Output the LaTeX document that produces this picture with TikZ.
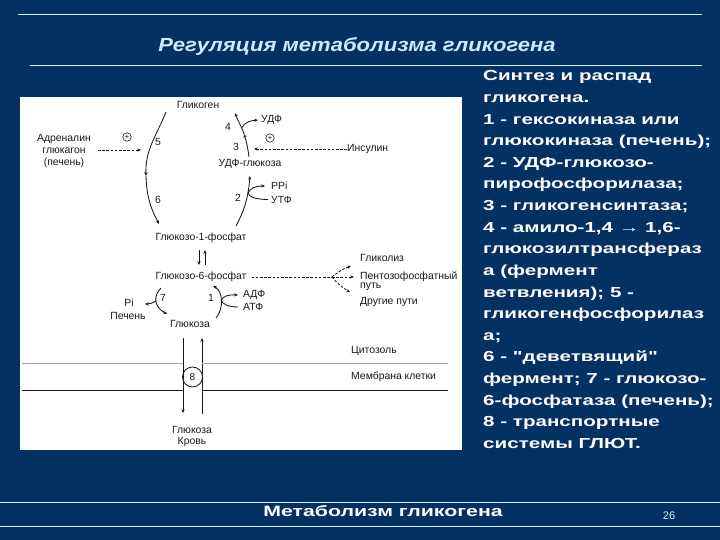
\documentclass[tikz,border=0pt]{standalone}
\usepackage{fontspec}
\setmainfont{Liberation Sans}
\newfontfamily\widefont{Liberation Sans}[FakeStretch=1.42]
\newfontfamily\titlefont{Liberation Sans}[FakeStretch=1.16]
\usetikzlibrary{arrows.meta}
\definecolor{bg}{RGB}{3,49,98}
\definecolor{titlec}{RGB}{205,235,250}
\definecolor{linec}{RGB}{215,238,248}
\definecolor{ink}{RGB}{25,25,25}
\tikzset{
  lbl/.style={font=\fontsize{10.4}{12}\selectfont, text=ink, inner sep=0pt},
  arr/.style={-{Stealth[length=3.8pt,width=3.2pt]}, line width=0.85pt, draw=ink},
  dsh/.style={arr, dash pattern=on 2.6pt off 1.6pt},
  dshline/.style={line width=0.85pt, draw=ink, dash pattern=on 2.6pt off 1.6pt},
  plusc/.style={circle, draw=ink, line width=0.6pt, minimum size=8.5pt, inner sep=0pt, font=\fontsize{7.5}{7.5}\selectfont},
  rt/.style={font=\widefont\bfseries\fontsize{14.5}{17}\selectfont, text=white, inner sep=0pt, anchor=base west},
  hline/.style={draw=linec, line width=0.9pt}
}
\begin{document}
\begin{tikzpicture}[x=1pt,y=-1pt]
\useasboundingbox (0,0) rectangle (720,540);
\fill[bg] (0,0) rectangle (720,540);
% header / footer lines
\draw[hline] (18,14) -- (702,14);
\draw[hline] (30,65) -- (702,65);
\draw[hline] (0,502) -- (720,502);
\draw[hline] (0,526) -- (720,526);
\node[font=\titlefont\bfseries\itshape\fontsize{19}{22}\selectfont, text=titlec, inner sep=0pt] (title) at (357,47) {Регуляция метаболизма гликогена};
\node[font=\widefont\bfseries\fontsize{15}{17}\selectfont, text=white, inner sep=0pt] (foot) at (383,511) {Метаболизм гликогена};
\node[font=\fontsize{11}{13}\selectfont, text=linec, inner sep=0pt] (page) at (669,516) {26};
% white panel
\fill[white] (20,97) rectangle (462,450);
% right text
\foreach \t [count=\i] in {{Синтез и распад},{гликогена.},{1 - гексокиназа или},{глюкокиназа (печень);},{2 - УДФ-глюкозо-},{пирофосфорилаза;},{3 - гликогенсинтаза;},{4 - амило-1,4 → 1,6-},{глюкозилтрансфераз},{а (фермент},{ветвления); 5 -},{гликогенфосфорилаз},{а;},{6 - "деветвящий"},{фермент; 7 - глюкозо-},{6-фосфатаза (печень);},{8 - транспортные},{системы ГЛЮТ.}}
  \node[rt] (r\i) at (483,{81+21.6*(\i-1)}) {\t};
% diagram labels
\node[lbl] (glycogen) at (198,105) {Гликоген};
\node[lbl, align=center] (adr) at (64,151) {Адреналин\\глюкагон\\(печень)};
\node[lbl, anchor=west] (udf) at (261,120) {УДФ};
\node[lbl, anchor=west] (ins) at (347,149) {Инсулин};
\node[lbl] (udfg) at (250,164) {УДФ-глюкоза};
\node[lbl, anchor=west] (ppi) at (271,186) {PPi};
\node[lbl, anchor=west] (utf) at (271,200) {УТФ};
\node[lbl] (g1p) at (201,238) {Глюкозо-1-фосфат};
\node[lbl] (g6p) at (201,277) {Глюкозо-6-фосфат};
\node[lbl] (glc) at (190,324) {Глюкоза};
\node[lbl] (pi) at (129,303) {Pi};
\node[lbl] (liver) at (128,316) {Печень};
\node[lbl, anchor=west] (adp) at (243,295) {АДФ};
\node[lbl, anchor=west] (atp) at (243,307) {АТФ};
\node[lbl, anchor=west] (glyc) at (360,258) {Гликолиз};
\node[lbl, anchor=west] (ppp) at (360,277) {Пентозофосфатный};
\node[lbl, anchor=west] (ppp2) at (360,287) {путь};
\node[lbl, anchor=west] (other) at (360,302) {Другие пути};
\node[lbl, anchor=west] (cyto) at (351,351) {Цитозоль};
\node[lbl, anchor=west] (memb) at (351,377) {Мембрана клетки};
\node[lbl] (bglc) at (192,430) {Глюкоза};
\node[lbl] (blood) at (192,442) {Кровь};
% numbers
\node[lbl] (n5) at (158,142) {5};
\node[lbl] (n6) at (158,200) {6};
\node[lbl] (n4) at (228,127) {4};
\node[lbl] (n3) at (236,147) {3};
\node[lbl] (n2) at (238,198) {2};
\node[lbl] (n7) at (163,298) {7};
\node[lbl] (n1) at (211,298) {1};
\node[plusc] (p1) at (127,137) {+};
\node[plusc] (p2) at (270,138) {+};
% coordinates
\coordinate (a5s) at (166,112);
\coordinate (a5m) at (146,176);
\coordinate (a6e) at (159,224);
\coordinate (ad5) at (141,150);
\coordinate (s2s) at (236,226);
\coordinate (s2e) at (250,176);
\coordinate (b2) at (248,193);
\coordinate (utfe) at (268,199.5);
\coordinate (ppie) at (265,186);
\coordinate (s3s) at (249,157);
\coordinate (s3m) at (244,134);
\coordinate (s4e) at (235,113);
\coordinate (b4) at (241.5,128);
\coordinate (udfe) at (258,120);
\coordinate (inse) at (254,149);
\coordinate (d1s) at (199,250);
\coordinate (d1e) at (199,265);
\coordinate (u1s) at (205,265);
\coordinate (u1e) at (205,250);
\coordinate (brk) at (332,277);
\coordinate (glyce) at (351,266);
\coordinate (pppe) at (354,277);
\coordinate (othe) at (350,292);
\coordinate (s7s) at (161,288);
\coordinate (s7e) at (167,314);
\coordinate (b7) at (156,301);
\coordinate (pie) at (145,304);
\coordinate (s1s) at (216,318);
\coordinate (s1e) at (213,286);
\coordinate (b1) at (221.5,300);
\coordinate (adpe) at (238,295);
\coordinate (atpe) at (238,307);
\coordinate (lt) at (183,338);
\coordinate (lb) at (183,413);
\coordinate (rt) at (202,414);
\coordinate (rtp) at (202,338);
% connectors
\draw[arr] (a5s) to[out=-112,in=92] (a5m);
\draw[arr] (a5m) to[out=-88,in=118] (a6e);
\draw[dsh] ([xshift=7pt]adr.east|-ad5) -- (ad5);
\draw[arr] (s2s) to[out=62,in=-95] (s2e);
\draw[arr] (utfe) .. controls (256,199.5) and (249,197) .. (b2) .. controls (250,188) and (256,186) .. (ppie);
\draw[arr] (s3s) to[out=98,in=-72] (s3m);
\draw[arr] (s3m) to[out=108,in=-70] (s4e);
\draw[arr] (b4) to[out=60,in=185] (udfe);
\draw[dsh] (ins.west) -- (inse);
\draw[arr] (d1s) -- (d1e);
\draw[arr] (u1s) -- (u1e);
\draw[dshline] ([xshift=5pt]g6p.east) -- (brk);
\draw[dsh] (brk) to[bend left=10] (glyce);
\draw[dsh] (brk) -- (pppe);
\draw[dsh] (brk) to[bend right=10] (othe);
\draw[arr] (s7s) .. controls (153,296) and (154,307) .. (s7e);
\draw[arr] (b7) to[out=-150,in=0] (pie);
\draw[arr] (s1s) .. controls (224,309) and (223,291) .. (s1e);
\draw[arr] (atpe) .. controls (228,307) and (222,304) .. (b1) .. controls (223,296) and (229,294.5) .. (adpe);
\draw[arr] (lt) -- (lb);
\draw[arr] (rt) -- (rtp);
\node[circle, draw=ink, line width=0.8pt, minimum size=20pt, inner sep=0pt, font=\fontsize{10}{11}\selectfont, text=ink] (t8) at (192.5,377) {8};
\draw[draw=gray!70, line width=0.8pt] (22,363) -- (lt|-0,363);
\draw[draw=gray!70, line width=0.8pt] (rt|-0,363) -- (448,363);
\draw[draw=ink, line width=0.9pt] (22,390) -- (lt|-0,390);
\draw[draw=ink, line width=0.9pt] (rt|-0,390) -- (448,390);
\end{tikzpicture}
\end{document}
